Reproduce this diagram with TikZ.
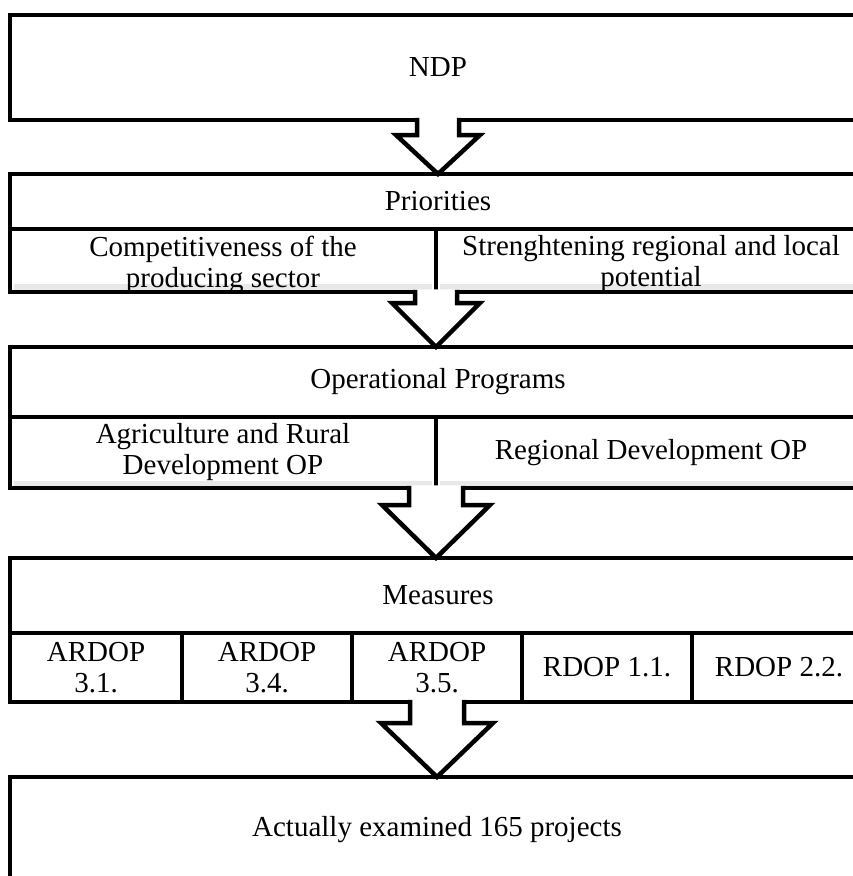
\documentclass[tikz,border=0pt]{standalone}
\usepackage{fontspec}
\setmainfont{Liberation Serif}
\usetikzlibrary{calc}
\newcommand{\flowarrow}[5]{%
  \path (#1) coordinate (fa-s) (#1 |- #2) coordinate (fa-t);
  \fill[white] ($(fa-s)+(-#3,-2.6)$) -- ($(fa-s)+(-#3,#5)$) -- ($(fa-s)+(-#4,#5)$) -- (fa-t)
     -- ($(fa-s)+(#4,#5)$) -- ($(fa-s)+(#3,#5)$) -- ($(fa-s)+(#3,-2.6)$) -- cycle;
  \draw[arrowline] ($(fa-s)+(-#3,-2.25)$) -- ($(fa-s)+(-#3,#5)$) -- ($(fa-s)+(-#4,#5)$) -- (fa-t)
     -- ($(fa-s)+(#4,#5)$) -- ($(fa-s)+(#3,#5)$) -- ($(fa-s)+(#3,-2.25)$);
}
\begin{document}
\begin{tikzpicture}[x=1pt,y=-1pt,
  box/.style={draw,line width=4.5pt,rectangle,anchor=north west,inner sep=0pt,outer sep=0pt,
              font=\fontsize{29}{31}\selectfont,align=center},
  lbl/.style={inner sep=0pt,font=\fontsize{29}{31}\selectfont,align=center},
  arrowline/.style={line width=4.5pt,line join=miter},
  shadeband/.style={fill=black!9}]
\useasboundingbox (0,0) rectangle (853,876);
\clip (0,0) rectangle (853,876);
\fill[white] (0,0) rectangle (853,876);

% NDP
\node[box,minimum width=856pt,minimum height=105pt] (ndp) at (10,15) {NDP};

% Priorities
\node[box,minimum width=856pt,minimum height=55pt] (prioh) at (10,174) {Priorities};
\fill[shadeband] (14,284) rectangle (432,290);
\fill[shadeband] (440,284) rectangle (866,290);
\node[box,minimum width=426pt,minimum height=63pt] (prioL) at (10,229) {};
\node[box,minimum width=430pt,minimum height=63pt] (prioR) at (436,229) {};
\node[lbl] (prioLt) at ($(prioL.center)+(0,4)$) {Competitiveness of the\\producing sector};
\node[lbl] (prioRt) at ($(prioR.center)+(0,4)$) {Strenghtening regional and local\\potential};

% Operational programs
\node[box,minimum width=856pt,minimum height=70pt] (oph) at (10,347) {Operational Programs};
\fill[shadeband] (14,481) rectangle (432,486);
\fill[shadeband] (440,481) rectangle (866,486);
\node[box,minimum width=426pt,minimum height=71pt] (opL) at (10,417) {Agriculture and Rural\\Development OP};
\node[box,minimum width=430pt,minimum height=71pt] (opR) at (436,417) {Regional Development OP};

% Measures
\node[box,minimum width=856pt,minimum height=75pt] (meash) at (10,558) {Measures};
\node[box,minimum width=172pt,minimum height=69pt] (m1) at (10,633) {ARDOP\\3.1.};
\node[box,minimum width=170pt,minimum height=69pt] (m2) at (182,633) {ARDOP\\3.4.};
\node[box,minimum width=170pt,minimum height=69pt] (m3) at (352,633) {ARDOP\\3.5.};
\node[box,minimum width=170pt,minimum height=69pt] (m4) at (522,633) {RDOP 1.1.};
\node[box,minimum width=174pt,minimum height=69pt] (m5) at (692,633) {RDOP 2.2.};

% Result
\node[box,minimum width=856pt,minimum height=110pt] (act) at (10,777) {};
\node[lbl] (acttext) at (437,830) {Actually examined 165 projects};

% arrows
\flowarrow{ndp.south}{prioh.north}{21}{42}{15}
\flowarrow{prioL.south east}{oph.north}{21}{44}{11}
\flowarrow{opL.south east}{meash.north}{27}{54}{17}
\flowarrow{m3.south}{act.north}{27}{56}{21}
\end{tikzpicture}
\end{document}
